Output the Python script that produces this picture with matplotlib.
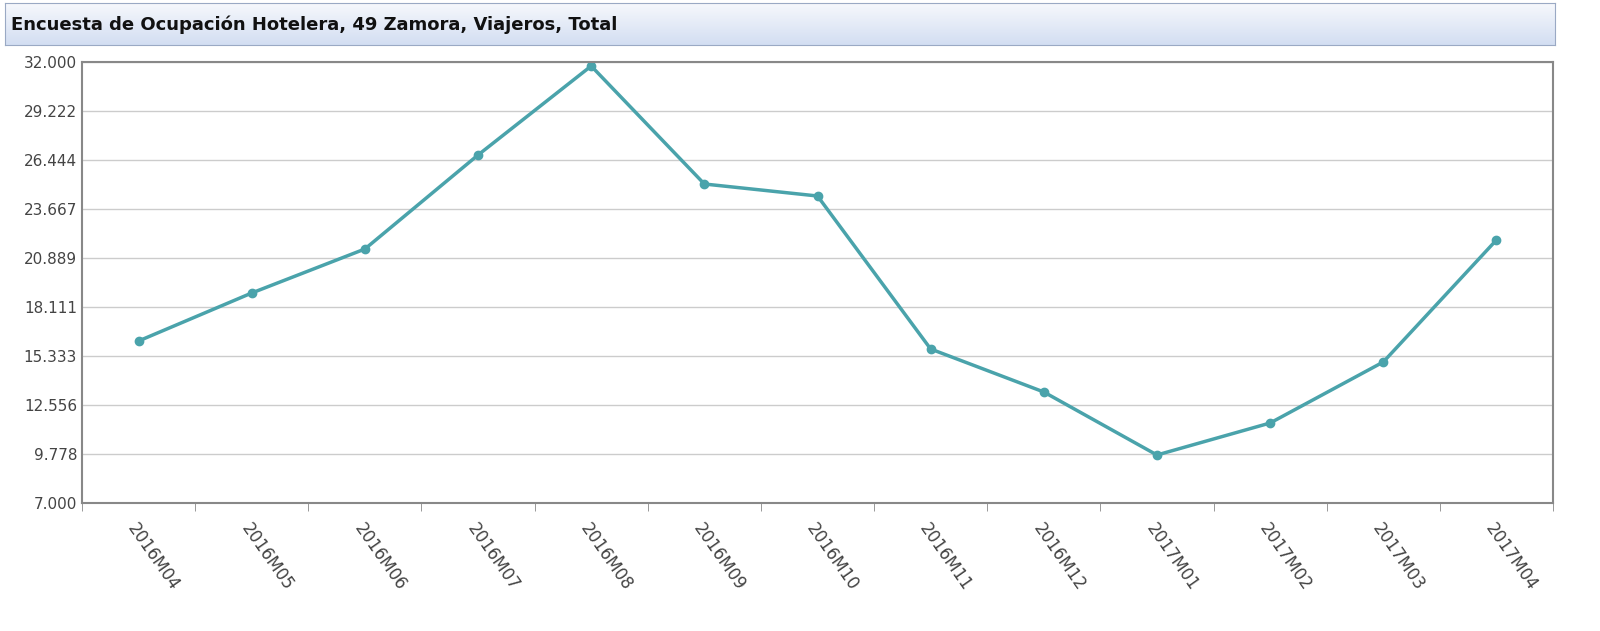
import matplotlib.pyplot as plt
import numpy as np

periods = ['2016M04', '2016M05', '2016M06', '2016M07', '2016M08', '2016M09', '2016M10',
           '2016M11', '2016M12', '2017M01', '2017M02', '2017M03', '2017M04']
viajeros = [16184, 18905, 21399, 26728, 31773, 25084, 24404,
            15730, 13293, 9721, 11535, 14993, 21909]
yticks = [7000, 9778, 12556, 15333, 18111, 20889, 23667, 26444, 29222, 32000]

fig = plt.figure(figsize=(16, 6.31), dpi=100)
fig.patch.set_facecolor('white')

# title bar with light blue gradient
bar = fig.add_axes([5/1600, 1-45/631, 1550/1600, 42/631])
grad = np.linspace(1, 0, 50).reshape(-1, 1)
bar.imshow(grad, aspect='auto', cmap=plt.matplotlib.colors.LinearSegmentedColormap.from_list(
    'g', ['#d3def2', '#f6f8fc']), extent=[0, 1, 0, 1])
bar.set_xticks([]); bar.set_yticks([])
for s in bar.spines.values():
    s.set_color('#9aa9c4')
bar.text(0.004, 0.48, 'Encuesta de Ocupación Hotelera, 49 Zamora, Viajeros, Total',
         fontsize=13, fontweight='bold', va='center', ha='left', color='#111111')

ax = fig.add_axes([82/1600, 1-503/631, 1471/1600, 441/631])
x = np.arange(len(periods))
ax.plot(x, viajeros, color='#4aa3ab', lw=2.5, marker='o', ms=6)
ax.set_xlim(-0.5, len(periods) - 0.5)
ax.set_ylim(7000, 32000)
ax.set_yticks(yticks)
ax.set_yticklabels(['{:,.3f}'.format(v / 1000).replace(',', '') for v in yticks],
                   fontsize=11, color='#444444')
ax.yaxis.grid(True, color='#cccccc', lw=1)
ax.set_xticks(x)
ax.set_xticklabels(periods, rotation=-55, ha='left', rotation_mode='anchor',
                   fontsize=12, color='#444444')
ax.tick_params(axis='x', length=0, pad=12)
ax.set_xticks(np.arange(-0.5, len(periods)), minor=True)
ax.tick_params(axis='x', which='minor', length=6, color='#888888')
ax.tick_params(axis='y', length=0)
for s in ax.spines.values():
    s.set_color('#888888')
    s.set_linewidth(1.5)

fig.savefig('out.png', dpi=100)
